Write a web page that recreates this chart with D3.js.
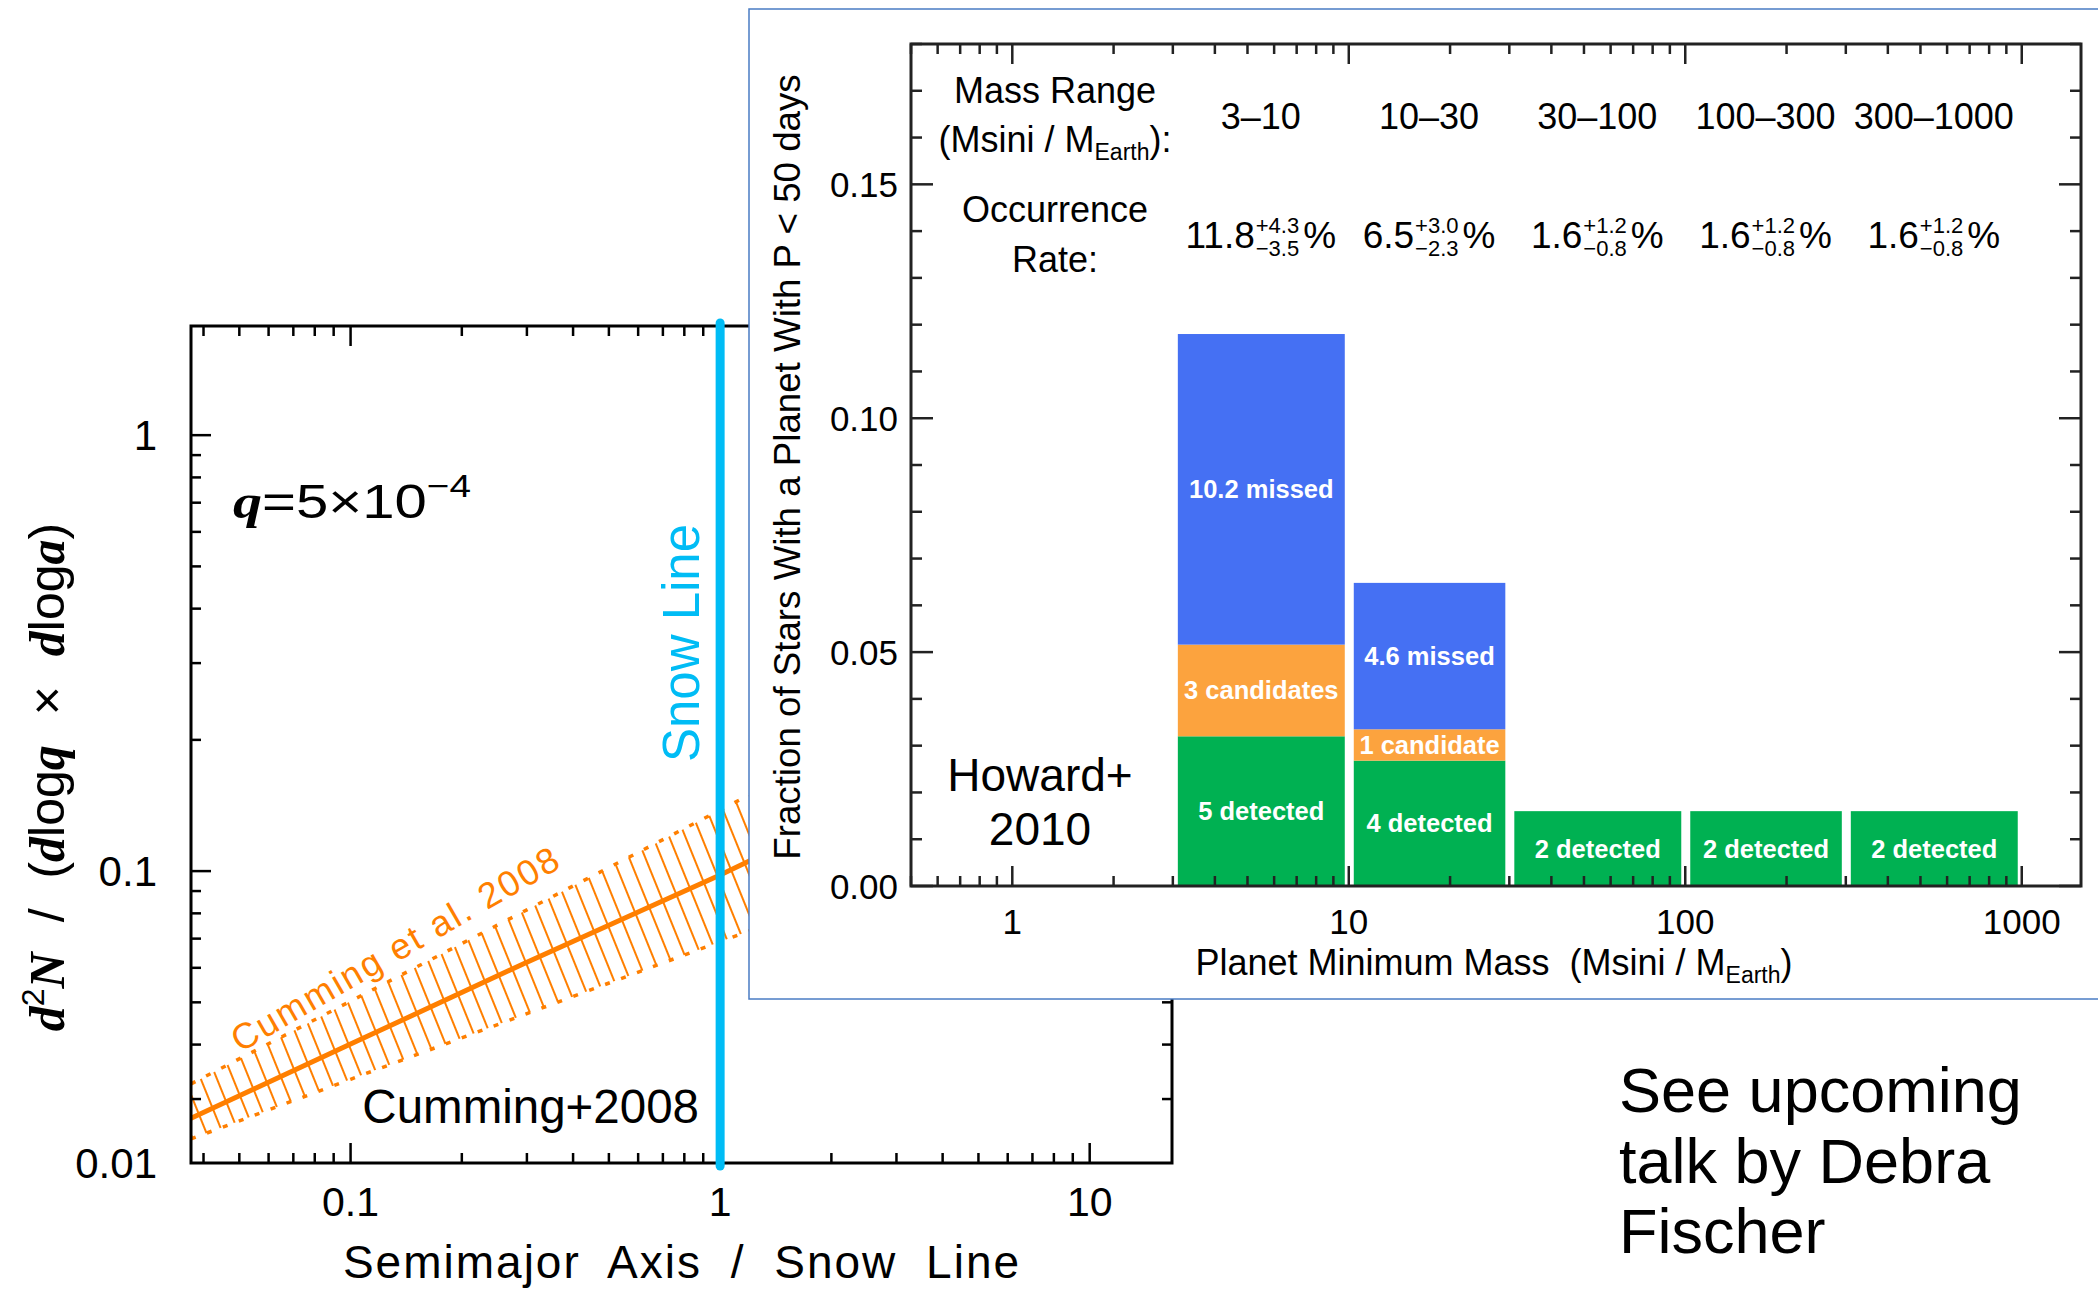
<!DOCTYPE html>
<html>
<head>
<meta charset="utf-8">
<script src="https://cdn.jsdelivr.net/npm/d3@7"></script>
<style>
  body { margin: 0; background: #fff; }
  svg { display: block; }
</style>
</head>
<body>
<svg id="chart" width="2098" height="1290"></svg>
<script>
// ── Data: Cumming+2008 (left panel) ───────────────────────────────
const cumA   = [0.037, 0.1, 0.3, 1, 1.3];          // semimajor axis / snow line
const cumFit = [0.0271, 0.0401, 0.0618, 0.098, 0.109];
const cumHi  = [0.0325, 0.0503, 0.0815, 0.138, 0.155];
const cumLo  = [0.0243, 0.0333, 0.0471, 0.0689, 0.0748];
const snowLine = 1;
const leftXTicks  = [0.1, 1, 10];
const leftXLabels = ["0.1", "1", "10"];
const leftYTicks  = [0.1, 1];
const leftYLabels = ["0.1", "1"];
const leftYBottomLabel = "0.01";

// ── Data: Howard+2010 (inset) ─────────────────────────────────────
const massLo     = [3, 10, 30, 100, 300];
const massHi     = [10, 30, 100, 300, 1000];
const rangeNames = ["3–10", "10–30", "30–100", "100–300", "300–1000"];
const detected   = [0.032, 0.0268, 0.016, 0.016, 0.016];
const candidates = [0.0196, 0.0067, 0, 0, 0];
const missed     = [0.0664, 0.0313, 0, 0, 0];
const detLabels  = ["5 detected", "4 detected", "2 detected", "2 detected", "2 detected"];
const candLabels = ["3 candidates", "1 candidate", "", "", ""];
const missLabels = ["10.2 missed", "4.6 missed", "", "", ""];
const rateMain   = ["11.8", "6.5", "1.6", "1.6", "1.6"];
const rateUp     = ["+4.3", "+3.0", "+1.2", "+1.2", "+1.2"];
const rateDown   = ["−3.5", "−2.3", "−0.8", "−0.8", "−0.8"];
const insetYTicks  = [0, 0.05, 0.10, 0.15];
const insetYLabels = ["0.00", "0.05", "0.10", "0.15"];
const insetXTicks  = [1, 10, 100, 1000];
const insetXLabels = ["1", "10", "100", "1000"];

const SANS  = "'Liberation Sans', Arial, Helvetica, sans-serif";
const SERIF = "'Liberation Serif', 'Times New Roman', serif";
const ORANGE = "#ff7f00";
const CYAN   = "#00bcf5";

const svg = d3.select("#chart");
svg.append("rect").attr("width", 2098).attr("height", 1290).attr("fill", "#fff");

// minor/major helper for log axes
function logTicks(lo, hi) {
    const out = [];
    for (let e = -3; e <= 4; e++) {
        for (let k = 1; k <= 9; k++) {
            const v = k * Math.pow(10, e);
            if (v >= lo * 0.999 && v <= hi * 1.001) out.push({ v, major: k === 1 });
        }
    }
    return out;
}

// ── Left panel ────────────────────────────────────────────────────
const L = { x0: 191, x1: 1172, y0: 326, y1: 1163 };
const xL = d3.scaleLog().domain([0.037, 16.7]).range([L.x0, L.x1]);
const yL = d3.scaleLog().domain([0.0214, 1.78]).range([L.y1, L.y0]);

const left = svg.append("g");

// hatched uncertainty band
const defs = svg.append("defs");
defs.append("pattern")
    .attr("id", "hatch").attr("patternUnits", "userSpaceOnUse")
    .attr("width", 15).attr("height", 60)
    .attr("patternTransform", "rotate(-22)")
    .append("line")
    .attr("x1", 7).attr("y1", 0).attr("x2", 7).attr("y2", 60)
    .attr("stroke", ORANGE).attr("stroke-width", 2);

const bandData = cumA.map((a, i) => ({ a, hi: cumHi[i], lo: cumLo[i], fit: cumFit[i] }));

left.append("path")
    .datum(bandData)
    .attr("fill", "url(#hatch)")
    .attr("d", d3.area().x(d => xL(d.a)).y0(d => yL(d.lo)).y1(d => yL(d.hi)));

["hi", "lo"].forEach(k => {
    left.append("path")
        .datum(bandData)
        .attr("fill", "none").attr("stroke", ORANGE)
        .attr("stroke-width", 3.5).attr("stroke-dasharray", "5,12")
        .attr("d", d3.line().x(d => xL(d.a)).y(d => yL(d[k])));
});

left.append("path")
    .datum(bandData)
    .attr("fill", "none").attr("stroke", ORANGE).attr("stroke-width", 5)
    .attr("d", d3.line().x(d => xL(d.a)).y(d => yL(d.fit)));

// frame
left.append("rect")
    .attr("x", L.x0).attr("y", L.y0)
    .attr("width", L.x1 - L.x0).attr("height", L.y1 - L.y0)
    .attr("fill", "none").attr("stroke", "#000").attr("stroke-width", 3);

// ticks
logTicks(0.037, 16.7).forEach(t => {
    const x = xL(t.v), len = t.major ? 20 : 10;
    left.append("line").attr("x1", x).attr("x2", x).attr("y1", L.y1).attr("y2", L.y1 - len)
        .attr("stroke", "#000").attr("stroke-width", 2.5);
    left.append("line").attr("x1", x).attr("x2", x).attr("y1", L.y0).attr("y2", L.y0 + len)
        .attr("stroke", "#000").attr("stroke-width", 2.5);
});
logTicks(0.0214, 1.78).forEach(t => {
    const y = yL(t.v), len = t.major ? 20 : 10;
    left.append("line").attr("x1", L.x0).attr("x2", L.x0 + len).attr("y1", y).attr("y2", y)
        .attr("stroke", "#000").attr("stroke-width", 2.5);
    left.append("line").attr("x1", L.x1).attr("x2", L.x1 - len).attr("y1", y).attr("y2", y)
        .attr("stroke", "#000").attr("stroke-width", 2.5);
});

// tick labels
leftXTicks.forEach((v, i) => {
    left.append("text")
        .attr("x", xL(v)).attr("y", L.y1 + 53)
        .attr("text-anchor", "middle").attr("font-family", SANS).attr("font-size", 41)
        .text(leftXLabels[i]);
});
leftYTicks.forEach((v, i) => {
    left.append("text")
        .attr("x", 157).attr("y", yL(v) + 15)
        .attr("text-anchor", "end").attr("font-family", SANS).attr("font-size", 42)
        .text(leftYLabels[i]);
});
left.append("text")
    .attr("x", 157).attr("y", yL.range()[0] + 15)
    .attr("text-anchor", "end").attr("font-family", SANS).attr("font-size", 42)
    .text(leftYBottomLabel);

// axis titles
left.append("text")
    .attr("x", 682).attr("y", 1278)
    .attr("text-anchor", "middle").attr("font-family", SANS).attr("font-size", 46)
    .attr("letter-spacing", 2).attr("word-spacing", 14)
    .text("Semimajor Axis / Snow Line");

const yTitle = left.append("text")
    .attr("transform", "translate(64,777) rotate(-90)")
    .attr("text-anchor", "middle").attr("font-family", SANS).attr("font-size", 50)
    .attr("word-spacing", 16)
    .style("white-space", "pre");
[
    ["d", true], ["2", false, "sup"], ["N", true], [" / (", false], ["d", true], ["log", false],
    ["q", true], [" × ", false], ["d", true], ["log", false], ["a", true], [")", false]
].forEach(([s, it, pos]) => {
    const t = yTitle.append("tspan").text(s);
    if (it) t.attr("font-family", SERIF).attr("font-style", "italic").attr("font-weight", "bold");
    if (pos === "sup") t.attr("font-size", 32).attr("dy", -20);
    if (s === "N") t.attr("dy", 20);
});

// q annotation
const qText = left.append("text")
    .attr("x", 233).attr("y", 518).attr("font-family", SANS).attr("font-size", 48)
    .attr("textLength", 238).attr("lengthAdjust", "spacingAndGlyphs");
qText.append("tspan").attr("font-family", SERIF).attr("font-style", "italic")
    .attr("font-weight", "bold").text("q");
qText.append("tspan").text("=5×10");
qText.append("tspan").attr("font-size", 32).attr("dy", -21).text("−4");

// Cumming labels
left.append("text")
    .attr("transform", "translate(401,960) rotate(-30)")
    .attr("text-anchor", "middle").attr("font-family", SANS).attr("font-size", 36)
    .attr("fill", ORANGE).attr("textLength", 372).attr("lengthAdjust", "spacing")
    .text("Cumming et al. 2008");

left.append("text")
    .attr("x", 699).attr("y", 1123)
    .attr("text-anchor", "end").attr("font-family", SANS).attr("font-size", 47.5)
    .text("Cumming+2008");

// snow line
left.append("line")
    .attr("x1", xL(snowLine)).attr("x2", xL(snowLine))
    .attr("y1", L.y0 - 3).attr("y2", L.y1 + 3)
    .attr("stroke", CYAN).attr("stroke-width", 9).attr("stroke-linecap", "round");
left.append("text")
    .attr("transform", `translate(${xL(snowLine) - 21},643) rotate(-90)`)
    .attr("text-anchor", "middle").attr("font-family", SANS).attr("font-size", 51)
    .attr("fill", CYAN).text("Snow Line");

// ── Inset panel ───────────────────────────────────────────────────
svg.append("rect")
    .attr("x", 749).attr("y", 9).attr("width", 1400).attr("height", 990)
    .attr("fill", "#fff").attr("stroke", "#4a7cc4").attr("stroke-width", 1.5);

const I = { x0: 911, x1: 2081, y0: 44, y1: 886 };
const xI = d3.scaleLog().domain([0.5, 1500]).range([I.x0, I.x1]);
const yI = d3.scaleLinear().domain([0, 0.18]).range([I.y1, I.y0]);
const inset = svg.append("g");

const rows = massLo.map((lo, i) => ({
    lo, hi: massHi[i], i,
    detected: detected[i], candidates: candidates[i], missed: missed[i]
}));
const keys = ["detected", "candidates", "missed"];
const colors = { detected: "#00b152", candidates: "#fca33e", missed: "#4570f3" };
const labels = { detected: detLabels, candidates: candLabels, missed: missLabels };
const stacked = d3.stack().keys(keys)(rows);

stacked.forEach(layer => {
    layer.forEach(seg => {
        const d = seg.data;
        if (d[layer.key] <= 0) return;
        const xa = xI(d.lo) + 5, xb = xI(d.hi) - 4;
        inset.append("rect")
            .attr("x", xa).attr("y", yI(seg[1]))
            .attr("width", xb - xa).attr("height", yI(seg[0]) - yI(seg[1]))
            .attr("fill", colors[layer.key]);
        const lab = labels[layer.key][d.i];
        if (lab) {
            inset.append("text")
                .attr("x", (xa + xb) / 2).attr("y", (yI(seg[0]) + yI(seg[1])) / 2 + 9)
                .attr("text-anchor", "middle").attr("font-family", SANS)
                .attr("font-weight", "bold").attr("font-size", 25.5).attr("fill", "#fff")
                .text(lab);
        }
    });
});

// frame + ticks
inset.append("rect")
    .attr("x", I.x0).attr("y", I.y0).attr("width", I.x1 - I.x0).attr("height", I.y1 - I.y0)
    .attr("fill", "none").attr("stroke", "#222").attr("stroke-width", 3);

d3.range(0, 19).forEach(k => {
    const y = yI(k / 100), len = k % 5 === 0 ? 22 : 11;
    inset.append("line").attr("x1", I.x0).attr("x2", I.x0 + len).attr("y1", y).attr("y2", y)
        .attr("stroke", "#222").attr("stroke-width", 2.5);
    inset.append("line").attr("x1", I.x1).attr("x2", I.x1 - len).attr("y1", y).attr("y2", y)
        .attr("stroke", "#222").attr("stroke-width", 2.5);
});
logTicks(0.5, 1500).forEach(t => {
    const x = xI(t.v), len = t.major ? 20 : 10;
    inset.append("line").attr("x1", x).attr("x2", x).attr("y1", I.y1).attr("y2", I.y1 - len)
        .attr("stroke", "#222").attr("stroke-width", 2.5);
    inset.append("line").attr("x1", x).attr("x2", x).attr("y1", I.y0).attr("y2", I.y0 + len)
        .attr("stroke", "#222").attr("stroke-width", 2.5);
});

insetYTicks.forEach((v, i) => {
    inset.append("text")
        .attr("x", 898).attr("y", yI(v) + 13)
        .attr("text-anchor", "end").attr("font-family", SANS).attr("font-size", 35)
        .text(insetYLabels[i]);
});
insetXTicks.forEach((v, i) => {
    inset.append("text")
        .attr("x", xI(v)).attr("y", 934)
        .attr("text-anchor", "middle").attr("font-family", SANS).attr("font-size", 35)
        .text(insetXLabels[i]);
});

// axis titles
const xTitle = inset.append("text")
    .attr("x", 1494).attr("y", 975)
    .attr("text-anchor", "middle").attr("font-family", SANS).attr("font-size", 36)
    .style("white-space", "pre");
xTitle.append("tspan").text("Planet Minimum Mass  (Msini / M");
xTitle.append("tspan").attr("font-size", 23).attr("dy", 8).text("Earth");
xTitle.append("tspan").attr("dy", -8).text(")");

inset.append("text")
    .attr("transform", "translate(800,467) rotate(-90)")
    .attr("text-anchor", "middle").attr("font-family", SANS).attr("font-size", 36.7)
    .text("Fraction of Stars With a Planet With P < 50 days");

// header table
const HX = 1055;
inset.append("text").attr("x", HX).attr("y", 103)
    .attr("text-anchor", "middle").attr("font-family", SANS).attr("font-size", 36)
    .text("Mass Range");
const msini = inset.append("text").attr("x", HX).attr("y", 152)
    .attr("text-anchor", "middle").attr("font-family", SANS).attr("font-size", 36);
msini.append("tspan").text("(Msini / M");
msini.append("tspan").attr("font-size", 23).attr("dy", 8).text("Earth");
msini.append("tspan").attr("dy", -8).text("):");
inset.append("text").attr("x", HX).attr("y", 222)
    .attr("text-anchor", "middle").attr("font-family", SANS).attr("font-size", 36)
    .text("Occurrence");
inset.append("text").attr("x", HX).attr("y", 272)
    .attr("text-anchor", "middle").attr("font-family", SANS).attr("font-size", 36)
    .text("Rate:");

rows.forEach((d, i) => {
    const cx = xI(Math.sqrt(d.lo * d.hi));
    inset.append("text").attr("x", cx).attr("y", 129)
        .attr("text-anchor", "middle").attr("font-family", SANS).attr("font-size", 36)
        .text(rangeNames[i]);

    const g = inset.append("g");
    const main = g.append("text").attr("x", 0).attr("y", 248)
        .attr("font-family", SANS).attr("font-size", 37).text(rateMain[i]);
    const w1 = main.node().getComputedTextLength();
    const up = g.append("text").attr("x", w1 + 1).attr("y", 233)
        .attr("font-family", SANS).attr("font-size", 22).text(rateUp[i]);
    const dn = g.append("text").attr("x", w1 + 1).attr("y", 256)
        .attr("font-family", SANS).attr("font-size", 22).text(rateDown[i]);
    const w2 = Math.max(up.node().getComputedTextLength(), dn.node().getComputedTextLength());
    const pct = g.append("text").attr("x", w1 + w2 + 5).attr("y", 248)
        .attr("font-family", SANS).attr("font-size", 37).text("%");
    const total = w1 + w2 + 5 + pct.node().getComputedTextLength();
    g.attr("transform", `translate(${cx - total / 2},0)`);
});

// Howard label
inset.append("text").attr("x", 1040).attr("y", 791)
    .attr("text-anchor", "middle").attr("font-family", SANS).attr("font-size", 46)
    .text("Howard+");
inset.append("text").attr("x", 1040).attr("y", 845)
    .attr("text-anchor", "middle").attr("font-family", SANS).attr("font-size", 46)
    .text("2010");

// ── Note ──────────────────────────────────────────────────────────
["See upcoming", "talk by Debra", "Fischer"].forEach((s, i) => {
    svg.append("text")
        .attr("x", 1619).attr("y", 1112 + i * 70.5)
        .attr("font-family", SANS).attr("font-size", 63)
        .text(s);
});
</script>
</body>
</html>
